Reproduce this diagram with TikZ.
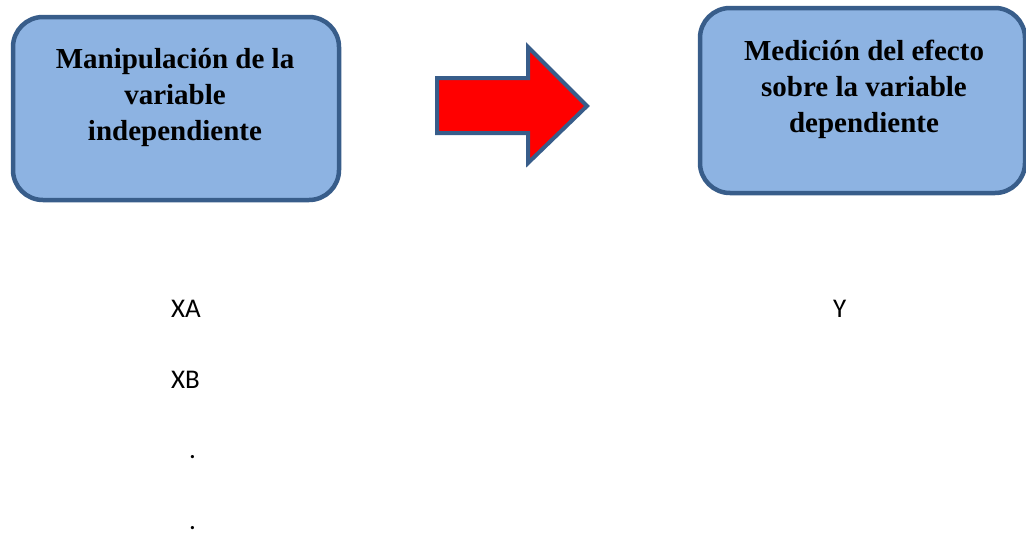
\documentclass[tikz,border=0pt]{standalone}
\usepackage{fontspec}
\setmainfont{Liberation Serif}
\newfontfamily\calib{Carlito}
\definecolor{boxfill}{HTML}{8DB3E2}
\definecolor{boxline}{HTML}{385D8A}
\begin{document}
\begin{tikzpicture}[x=1pt,y=-1pt,
  box/.style={draw=boxline,fill=boxfill,line width=4.5pt,rounded corners=30pt,inner sep=0pt},
  boxtxt/.style={anchor=base,inner sep=0pt,font=\bfseries\fontsize{29}{36}\selectfont},
  plain/.style={anchor=base west,inner sep=0pt,font=\calib\fontsize{27}{30}\selectfont}]
\useasboundingbox (0,0) rectangle (1026,533);
% boxes
\node[box,minimum width=326pt,minimum height=183pt] (b1) at (176,108.5) {};
\node[box,minimum width=325pt,minimum height=185pt] (b2) at (862.5,100.5) {};
\node[boxtxt] (t11) at (175,68) {Manipulación de la};
\node[boxtxt] (t12) at (175,104) {variable};
\node[boxtxt] (t13) at (175,140) {independiente};
\node[boxtxt] (t21) at (864,60) {Medición del efecto};
\node[boxtxt] (t22) at (864,96) {sobre la variable};
\node[boxtxt] (t23) at (864,132) {dependiente};
% arrow
\draw[draw=boxline,fill=red,line width=4pt,line join=miter]
  (437,78) -- (528,78) -- (528,47) -- (587,106) -- (528,163) -- (528,133) -- (437,133) -- cycle;
% labels
\node[plain] (xa) at (171,317) {XA};
\node[plain] (xb) at (171,388) {XB};
\node[plain] (d1) at (189,458) {.};
\node[plain] (d2) at (189,529) {.};
\node[plain] (y) at (833,317) {Y};
\end{tikzpicture}
\end{document}
